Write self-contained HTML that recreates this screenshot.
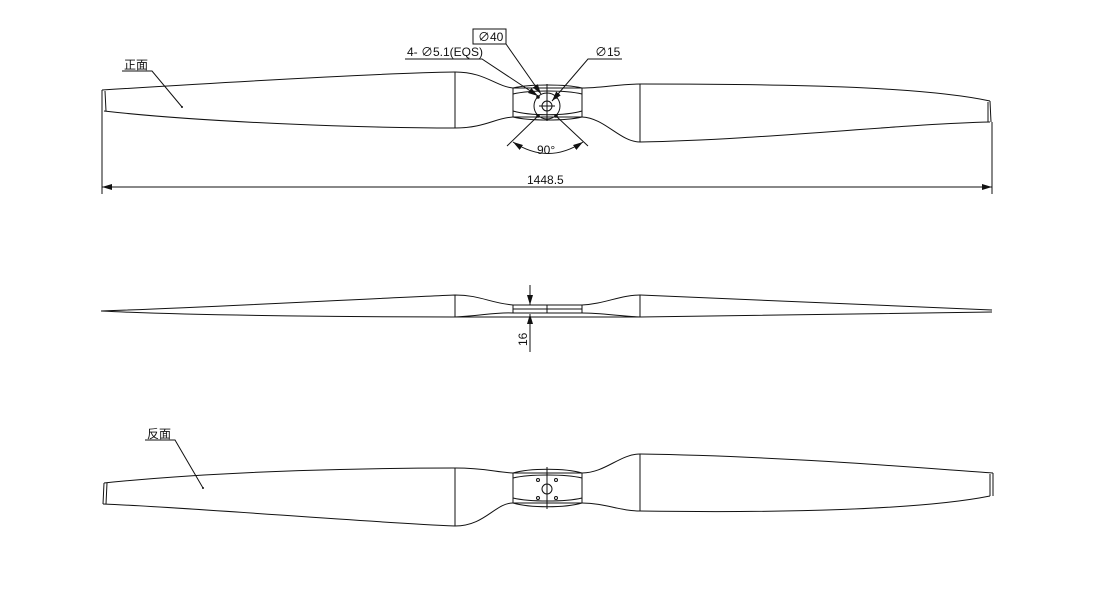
<!DOCTYPE html>
<html><head><meta charset="utf-8"><style>
html,body{margin:0;padding:0;background:#fff;}
svg{display:block;}
text{font-family:"Liberation Sans","Noto Sans CJK SC",sans-serif;fill:#111;}
</style></head><body>
<svg width="1100" height="600" viewBox="0 0 1100 600" xmlns="http://www.w3.org/2000/svg">
<defs>
<marker id="ar" markerWidth="10" markerHeight="6" refX="10" refY="3" orient="auto-start-reverse" markerUnits="userSpaceOnUse"><path d="M0,0 L10,3 L0,6 Z" fill="#111"/></marker>
</defs>
<g fill="none" stroke="#111" stroke-width="1">
<!-- TOP VIEW -->
<path d="M102,90 C230,82 380,73 455,72 C485,72 495,86 513,88 L582,88 C600,88 620,84 640,84 C780,84 920,86 990,101"/>
<path d="M104,111 C200,122 360,128 455,128 C485,128 495,118 513,117 L582,117 C605,118 620,142 640,142 C760,140 900,124 990,122"/>
<path d="M102,90 L102,111 M105,91 L106,111"/>
<path d="M990,101 L991,122 M988,102 L988,122"/>
<line x1="455" y1="72" x2="455" y2="128"/>
<line x1="640" y1="84" x2="640" y2="142"/>
<path d="M513,88 L513,117 M582,88 L582,117"/>
<path d="M513,94 C530,90 565,90 582,94"/>
<path d="M513,111 C530,116 565,116 582,111"/>
<path d="M513,88 C530,84 565,84 582,88" />
<path d="M513,117 C530,121 565,121 582,117"/>
<line x1="547" y1="84" x2="547" y2="121"/>
<circle cx="547" cy="106" r="13"/>
<circle cx="547" cy="106" r="5"/>
<line x1="539" y1="106" x2="555" y2="106"/>
<circle cx="538" cy="97" r="1.3" fill="#111"/>
<circle cx="556" cy="97" r="1.3" fill="#111"/>
<circle cx="538" cy="116" r="1.3" fill="#111"/>
<circle cx="556" cy="116" r="1.3" fill="#111"/>
<path d="M122,71 L152,71 L182,107"/>
<path d="M405,59 L482,59 L538,96" marker-end="url(#ar)"/>
<rect x="473" y="29" width="33" height="15"/>
<path d="M506,44 L541,94" marker-end="url(#ar)"/>
<path d="M622,59 L588,59 L552,101" marker-end="url(#ar)"/>
<path d="M538,116 L507,146 M556,116 L588,146"/>
<path d="M513,142 Q548,165 583,142" marker-start="url(#ar)" marker-end="url(#ar)"/>
<line x1="102" y1="111" x2="102" y2="194"/>
<line x1="992" y1="122" x2="992" y2="194"/>
<line x1="102" y1="187" x2="992" y2="187" marker-start="url(#ar)" marker-end="url(#ar)"/>

<!-- SIDE VIEW -->
<path d="M101,311 C220,307 380,298 455,295 C480,295 490,303 513,305 L582,305 C605,304 620,295 640,295 C780,300 920,306 992,310"/>
<path d="M101,311 C200,316 380,317 455,317 L640,317 C780,316 920,314 992,312"/>
<path d="M455,317 C480,316 495,312 513,313 M582,313 C600,313 620,316 640,317"/>
<path d="M513,305 L513,313 M582,305 L582,313 M547,305 L547,313"/>
<line x1="513" y1="309" x2="582" y2="309"/>
<line x1="513" y1="313" x2="582" y2="313"/>
<line x1="455" y1="295" x2="455" y2="317"/>
<line x1="640" y1="295" x2="640" y2="317"/>
<line x1="530" y1="285" x2="530" y2="305" marker-end="url(#ar)"/>
<line x1="530" y1="352" x2="530" y2="314" marker-end="url(#ar)"/>

<!-- BOTTOM VIEW -->
<path d="M104,483 C230,470 380,468 455,468 C485,468 495,472 513,473 L582,473 C605,473 620,454 640,454 C780,456 920,468 993,473"/>
<path d="M103,504 C200,508 360,522 455,526 C485,526 495,503 513,503 L582,503 C605,503 620,511 640,511 C780,513 920,510 990,496"/>
<path d="M104,483 L103,504 M107,483 L106,504"/>
<path d="M993,473 L993,496 M990,474 L990,496"/>
<line x1="455" y1="468" x2="455" y2="526"/>
<line x1="640" y1="454" x2="640" y2="511"/>
<path d="M513,473 L513,503 M582,473 L582,503 M547,467 L547,509"/>
<path d="M513,473 C530,468 565,468 582,473"/>
<path d="M513,478 C530,474 565,474 582,478"/>
<path d="M513,498 C530,502 565,502 582,498"/>
<path d="M513,503 C530,508 565,508 582,503"/>
<circle cx="547" cy="489" r="5"/>
<circle cx="538" cy="480" r="1.5"/>
<circle cx="556" cy="480" r="1.5"/>
<circle cx="538" cy="498" r="1.5"/>
<circle cx="556" cy="498" r="1.5"/>
<path d="M145,440 L175,440 L203,488"/>
</g>
<circle cx="182" cy="107" r="1" fill="#111"/>
<circle cx="203" cy="488" r="1" fill="#111"/>
<text x="124" y="69" font-size="12">正面</text>
<text x="147" y="438" font-size="12">反面</text>
<text x="407" y="56" font-size="12">4- ∅5.1(EQS)</text>
<text x="478" y="41" font-size="12">∅40</text>
<text x="595" y="56" font-size="12">∅15</text>
<text x="537" y="154" font-size="12">90°</text>
<text x="527" y="184" font-size="12">1448.5</text>
<text x="0" y="0" font-size="12" transform="translate(527,346) rotate(-90)">16</text>
</svg>
</body></html>
